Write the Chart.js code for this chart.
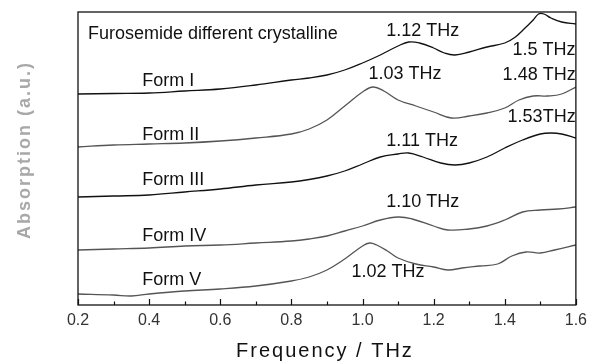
<!DOCTYPE html>
<html>
<head>
<meta charset="utf-8">
<script src="https://cdn.jsdelivr.net/npm/chart.js@4/dist/chart.umd.min.js"></script>
<style>
  html, body { margin: 0; padding: 0; background: #fff; }
</style>
</head>
<body>
<canvas id="thzChart" width="593" height="364"></canvas>
<script>
// spectra, absorption in arbitrary units (curves offset vertically)
const freqI = [0.2, 0.3, 0.4, 0.5, 0.6, 0.7, 0.8, 0.85, 0.9, 0.95, 1.0, 1.05, 1.1, 1.13, 1.16, 1.2, 1.23, 1.26, 1.3, 1.35, 1.4, 1.43, 1.46, 1.48, 1.495, 1.51, 1.53, 1.56, 1.6];
const formI = [211, 211.5, 212, 214, 216, 220, 225, 227, 230, 235, 242, 250, 259, 263, 262, 257, 252, 250, 253, 258, 262, 268, 278, 285, 291, 291, 287, 283, 281];

const freqII = [0.2, 0.3, 0.4, 0.5, 0.6, 0.7, 0.8, 0.85, 0.9, 0.95, 1.0, 1.03, 1.06, 1.1, 1.15, 1.2, 1.25, 1.3, 1.35, 1.4, 1.44, 1.48, 1.52, 1.56, 1.6];
const formII = [158, 160, 161, 162, 164, 167, 171, 176, 185, 199, 213, 218, 214, 205, 199, 193, 187, 189, 192, 197, 205, 209, 209, 211, 218];

const freqIII = [0.2, 0.3, 0.4, 0.5, 0.6, 0.7, 0.8, 0.85, 0.9, 0.95, 1.0, 1.05, 1.1, 1.13, 1.17, 1.22, 1.26, 1.3, 1.35, 1.4, 1.45, 1.5, 1.53, 1.56, 1.6];
const formIII = [108, 109, 110, 113, 116, 120, 123, 125.5, 129, 134, 141, 148, 151, 152, 148, 142, 140, 142, 148, 157, 165, 171, 172, 171, 167];

const freqIV = [0.2, 0.3, 0.4, 0.5, 0.6, 0.7, 0.8, 0.85, 0.9, 0.95, 1.0, 1.05, 1.1, 1.14, 1.2, 1.24, 1.3, 1.35, 1.4, 1.45, 1.5, 1.55, 1.6];
const formIV = [55, 56, 57, 59, 60, 62, 64, 66, 69, 74, 79, 85, 88, 86, 79, 75, 76, 79, 85, 93, 95, 96, 98];

const freqV = [0.2, 0.3, 0.35, 0.4, 0.5, 0.6, 0.7, 0.8, 0.85, 0.9, 0.95, 1.0, 1.02, 1.04, 1.07, 1.1, 1.15, 1.2, 1.24, 1.28, 1.33, 1.38, 1.42, 1.46, 1.5, 1.54, 1.6];
const formV = [11, 10, 9, 11, 14, 16, 19, 24, 28, 35, 46, 59, 62, 60, 54, 47, 41, 38, 35, 37, 39, 41, 49, 53, 52, 55, 60];

const xTicks = [0.2, 0.4, 0.6, 0.8, 1.0, 1.2, 1.4, 1.6];
const xMinorTicks = [0.3, 0.5, 0.7, 0.9, 1.1, 1.3, 1.5];

// text written inside the plot: [text, THz, a.u.]
const notes = [
    ['Furosemide different crystalline', 0.228, 271],
    ['Form I', 0.381, 224],
    ['Form II', 0.381, 170],
    ['Form III', 0.381, 125],
    ['Form IV', 0.381, 69],
    ['Form V', 0.381, 25],
    ['1.12 THz', 1.067, 274],
    ['1.5 THz', 1.422, 255],
    ['1.03 THz', 1.017, 231],
    ['1.48 THz', 1.394, 230],
    ['1.53THz', 1.408, 188],
    ['1.11 THz', 1.067, 164],
    ['1.10 THz', 1.067, 103],
    ['1.02 THz', 0.969, 33]
];

const pts = (xs, ys) => xs.map((x, i) => ({ x, y: ys[i] }));

const series = (label, xs, ys, color) => ({
    label,
    data: pts(xs, ys),
    borderColor: color,
    borderWidth: 1.3,
    pointRadius: 0,
    fill: false,
    tension: 0.4
});

// frame, inward ticks, titles and notes
const decorations = {
    id: 'decorations',
    afterDraw(chart) {
        const { ctx, chartArea: a, scales: { x, y } } = chart;
        ctx.save();
        ctx.strokeStyle = '#111';
        ctx.lineWidth = 1.3;
        ctx.strokeRect(a.left, a.top, a.right - a.left, a.bottom - a.top);

        ctx.lineWidth = 1.2;
        ctx.beginPath();
        xTicks.forEach(v => {
            const px = Math.round(x.getPixelForValue(v)) + 0.5;
            ctx.moveTo(px, a.bottom);
            ctx.lineTo(px, a.bottom - 6);
        });
        xMinorTicks.forEach(v => {
            const px = Math.round(x.getPixelForValue(v)) + 0.5;
            ctx.moveTo(px, a.bottom);
            ctx.lineTo(px, a.bottom - 3.5);
        });
        ctx.stroke();

        ctx.fillStyle = '#111';
        ctx.font = '18px "Liberation Sans", Arial, sans-serif';
        ctx.textBaseline = 'middle';
        ctx.textAlign = 'left';
        notes.forEach(([t, fx, fy]) => {
            ctx.fillText(t, x.getPixelForValue(fx), y.getPixelForValue(fy));
        });

        ctx.textAlign = 'center';
        ctx.font = '20px "Liberation Sans", Arial, sans-serif';
        ctx.letterSpacing = '2px';
        ctx.fillStyle = '#111';
        ctx.fillText('Frequency / THz', (a.left + a.right) / 2 - 2, 351);

        ctx.translate(25, 150);
        ctx.rotate(-Math.PI / 2);
        ctx.font = 'bold 18px "Liberation Sans", Arial, sans-serif';
        ctx.fillStyle = '#a8a8a8';
        ctx.fillText('Absorption (a.u.)', 0, 0);
        ctx.restore();
    }
};

new Chart(document.getElementById('thzChart'), {
    type: 'line',
    data: {
        datasets: [
            series('Form I', freqI, formI, '#111'),
            series('Form II', freqII, formII, '#555'),
            series('Form III', freqIII, formIII, '#111'),
            series('Form IV', freqIV, formIV, '#555'),
            series('Form V', freqV, formV, '#555')
        ]
    },
    options: {
        responsive: false,
        animation: false,
        layout: { padding: { left: 78, top: 12, right: 11, bottom: 0 } },
        plugins: { legend: { display: false }, tooltip: { enabled: false } },
        scales: {
            x: {
                type: 'linear',
                min: 0.2,
                max: 1.6,
                afterFit: s => { s.height = 59; },
                afterBuildTicks: s => { s.ticks = xTicks.map(value => ({ value })); },
                grid: { display: false, drawTicks: false },
                border: { display: false },
                ticks: {
                    padding: 6,
                    color: '#333',
                    font: { family: '"Liberation Sans", Arial, sans-serif', size: 16 },
                    callback: v => v.toFixed(1)
                }
            },
            y: {
                display: false,
                min: 0,
                max: 293
            }
        }
    },
    plugins: [decorations]
});
</script>
</body>
</html>
